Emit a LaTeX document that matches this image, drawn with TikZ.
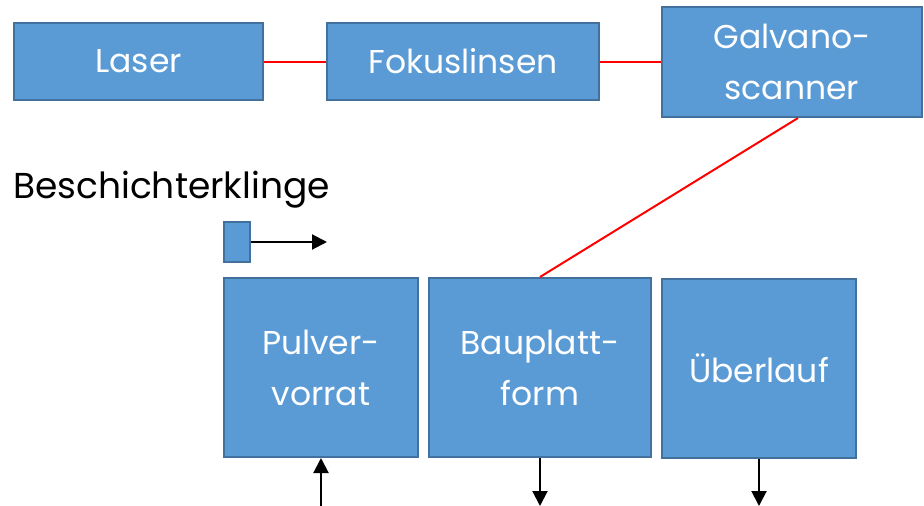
\documentclass[tikz,border=0pt]{standalone}
\usepackage{fontspec}
\setmainfont{Poppins}
\usetikzlibrary{arrows.meta}
\definecolor{boxfill}{HTML}{5B9BD5}
\definecolor{boxline}{HTML}{41719C}
\tikzset{
  blk/.style={draw=boxline, fill=boxfill, line width=2pt, text=white, inner sep=0pt, align=center, font=\fontsize{33}{51}\selectfont},
  beam/.style={draw=red, line width=2pt},
  arr/.style={draw=black, line width=2pt, -{Triangle[length=15pt,width=15pt]}}
}
\begin{document}
\begin{tikzpicture}[x=1pt,y=-1pt]
\useasboundingbox (0,0) rectangle (924,506);
\node[blk, minimum width=249pt, minimum height=77pt] (laser) at (138.5,61.5) {Laser};
\node[blk, minimum width=272pt, minimum height=77pt] (fokus) at (463,61.5) {Fokuslinsen};
\node[blk, minimum width=260pt, minimum height=110pt] (galvo) at (792,62) {Galvano-\\scanner};
\node[blk, minimum width=26pt, minimum height=40pt] (blade) at (237,242) {};
\node[blk, minimum width=194pt, minimum height=179pt] (pulver) at (321,367.5) {Pulver-\\vorrat};
\node[blk, minimum width=222pt, minimum height=179pt] (bau) at (540,367.5) {Bauplatt-\\form};
\node[blk, minimum width=194pt, minimum height=179pt] (ueber) at (759,368.5) {Überlauf};
\node[anchor=base west, inner sep=0pt, font=\fontsize{36}{42}\selectfont] (label) at (13,198) {Beschichterklinge};
\coordinate (bladeend) at (327,242);
\coordinate (pin) at (321,506);
\coordinate (bauout) at (540,506);
\coordinate (ueberout) at (759,506);
\draw[beam] (laser.east) -- (fokus.west);
\draw[beam] (fokus.east) -- (fokus.east -| galvo.west);
\draw[beam] ([xshift=6pt]galvo.south) -- (bau.north);
\draw[arr] (blade.east) -- (bladeend);
\draw[arr] (pin) -- (pulver.south);
\draw[arr] (bau.south) -- (bauout);
\draw[arr] (ueber.south) -- (ueberout);
\end{tikzpicture}
\end{document}
